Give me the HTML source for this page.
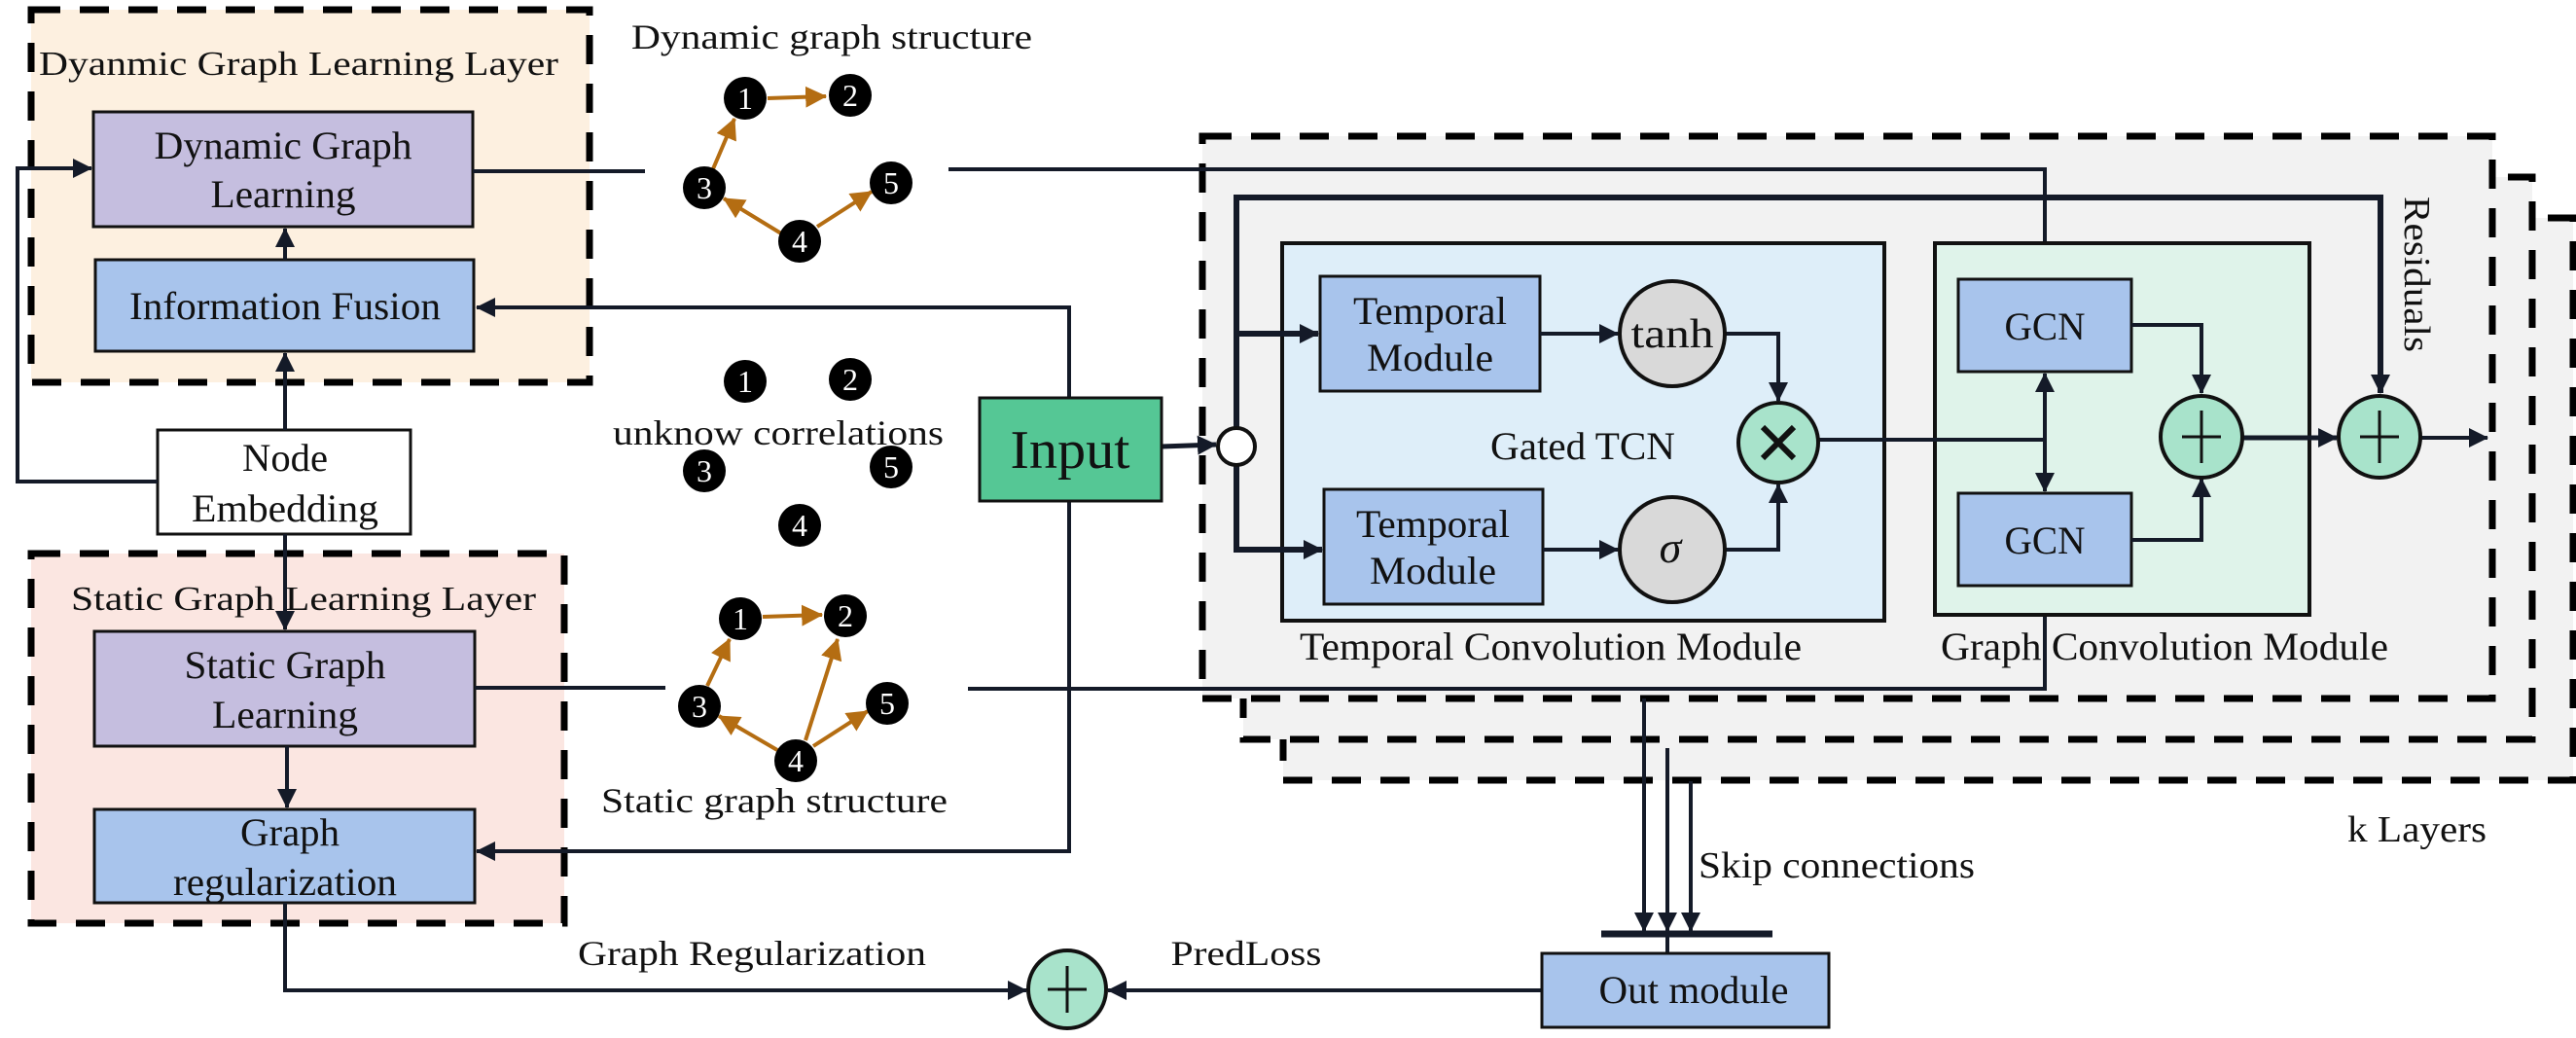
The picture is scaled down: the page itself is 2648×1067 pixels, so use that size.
<!DOCTYPE html>
<html><head><meta charset="utf-8"><style>
html,body{margin:0;padding:0;background:#fff;}
svg{display:block;}
text{font-family:"Liberation Serif","Times New Roman",serif;fill:#111;}
</style></head><body>
<svg width="2648" height="1067" viewBox="0 0 2648 1067" xmlns="http://www.w3.org/2000/svg" font-family="Liberation Serif, serif">
<defs>
<marker id="ar" viewBox="0 0 10 10" refX="9.5" refY="5" markerWidth="20" markerHeight="20" markerUnits="userSpaceOnUse" orient="auto"><path d="M0,0 L10,5 L0,10 z" fill="#141a28"/></marker>
<marker id="ao" viewBox="0 0 10 10" refX="9.5" refY="5" markerWidth="22" markerHeight="22" markerUnits="userSpaceOnUse" orient="auto"><path d="M0,0 L10,5 L0,10 z" fill="#b46d12"/></marker>
</defs>

<rect x="1319" y="224" width="1326" height="578" fill="#f2f2f2" stroke="#000" stroke-width="7" stroke-dasharray="30 20"/>
<rect x="1278" y="182" width="1325" height="578" fill="#f2f2f2" stroke="#000" stroke-width="7" stroke-dasharray="30 20"/>
<rect x="1236" y="140" width="1326" height="578" fill="#f2f2f2" stroke="#000" stroke-width="7" stroke-dasharray="30 20"/>

<rect x="32" y="10" width="574" height="383" fill="#fdf0e0" stroke="#000" stroke-width="7" stroke-dasharray="30 20"/>
<rect x="32" y="569" width="548" height="380" fill="#fbe6e1" stroke="#000" stroke-width="7" stroke-dasharray="30 20"/>
<text x="40" y="77" font-size="35" textLength="534" lengthAdjust="spacingAndGlyphs">Dyanmic Graph Learning Layer</text>
<text x="73" y="627" font-size="35" textLength="478" lengthAdjust="spacingAndGlyphs">Static Graph Learning Layer</text>

<rect x="96" y="115" width="390" height="118" fill="#c5bedf" stroke="#111" stroke-width="3"/>
<text x="291" y="163" font-size="40" text-anchor="middle" textLength="265" lengthAdjust="spacingAndGlyphs">Dynamic Graph</text>
<text x="291" y="213" font-size="40" text-anchor="middle" textLength="149" lengthAdjust="spacingAndGlyphs">Learning</text>
<rect x="98" y="267" width="389" height="94" fill="#a8c4ec" stroke="#111" stroke-width="3"/>
<text x="293" y="328" font-size="40" text-anchor="middle" textLength="320" lengthAdjust="spacingAndGlyphs">Information Fusion</text>
<rect x="162" y="442" width="260" height="107" fill="#fff" stroke="#111" stroke-width="3"/>
<text x="293" y="484" font-size="40" text-anchor="middle" textLength="88" lengthAdjust="spacingAndGlyphs">Node</text>
<text x="293" y="536" font-size="40" text-anchor="middle" textLength="192" lengthAdjust="spacingAndGlyphs">Embedding</text>
<rect x="97" y="649" width="391" height="118" fill="#c5bedf" stroke="#111" stroke-width="3"/>
<text x="293" y="697" font-size="40" text-anchor="middle" textLength="207" lengthAdjust="spacingAndGlyphs">Static Graph</text>
<text x="293" y="748" font-size="40" text-anchor="middle" textLength="150" lengthAdjust="spacingAndGlyphs">Learning</text>
<rect x="97" y="832" width="391" height="96" fill="#a8c4ec" stroke="#111" stroke-width="3"/>
<text x="298" y="869" font-size="40" text-anchor="middle" textLength="102" lengthAdjust="spacingAndGlyphs">Graph</text>
<text x="293" y="920" font-size="40" text-anchor="middle" textLength="230" lengthAdjust="spacingAndGlyphs">regularization</text>

<g stroke="#141a28" stroke-width="4" fill="none">
<polyline points="162,495 18,495 18,173 94,173" marker-end="url(#ar)"/>
<line x1="293" y1="442" x2="293" y2="363" marker-end="url(#ar)"/>
<line x1="293" y1="267" x2="293" y2="235" marker-end="url(#ar)"/>
<line x1="293" y1="549" x2="293" y2="647" marker-end="url(#ar)"/>
<line x1="295" y1="767" x2="295" y2="830" marker-end="url(#ar)"/>
<polyline points="293,928 293,1018 1055,1018" marker-end="url(#ar)"/>
<line x1="1585" y1="1018" x2="1139" y2="1018" marker-end="url(#ar)"/>
<polyline points="1099,409 1099,316 490,316" marker-end="url(#ar)"/>
<polyline points="1099,515 1099,875 490,875" marker-end="url(#ar)"/>
<line x1="486" y1="176" x2="663" y2="176"/>
<polyline points="975,174 2102,174 2102,285" marker-end="url(#ar)"/>
<line x1="488" y1="707" x2="684" y2="707"/>
<polyline points="995,708 2102,708 2102,604" marker-end="url(#ar)"/>
<line x1="1194" y1="459" x2="1250" y2="457" stroke-width="5" marker-end="url(#ar)"/>
</g>

<g stroke="#b46d12" stroke-width="4">
<line x1="732" y1="176" x2="755" y2="122" marker-end="url(#ao)"/>
<line x1="789" y1="101" x2="849" y2="99" marker-end="url(#ao)"/>
<line x1="803" y1="240" x2="744" y2="204" marker-end="url(#ao)"/>
<line x1="840" y1="233" x2="896" y2="197" marker-end="url(#ao)"/>
<line x1="727" y1="705" x2="750" y2="657" marker-end="url(#ao)"/>
<line x1="784" y1="634" x2="845" y2="632" marker-end="url(#ao)"/>
<line x1="799" y1="771" x2="739" y2="736" marker-end="url(#ao)"/>
<line x1="828" y1="761" x2="861" y2="657" marker-end="url(#ao)"/>
<line x1="836" y1="767" x2="892" y2="731" marker-end="url(#ao)"/>
</g>
<g fill="#000">
<circle cx="766" cy="101" r="22"/><circle cx="874" cy="98" r="22"/><circle cx="724" cy="193" r="22"/><circle cx="916" cy="188" r="22"/><circle cx="822" cy="248" r="22"/>
<circle cx="766" cy="392" r="22"/><circle cx="874" cy="390" r="22"/><circle cx="724" cy="484" r="22"/><circle cx="916" cy="480" r="22"/><circle cx="822" cy="540" r="22"/>
<circle cx="761" cy="636" r="22"/><circle cx="869" cy="633" r="22"/><circle cx="719" cy="726" r="22"/><circle cx="912" cy="723" r="22"/><circle cx="818" cy="782" r="22"/>
</g>
<g font-size="32" text-anchor="middle">
<text x="766" y="112" style="fill:#fff">1</text><text x="874" y="109" style="fill:#fff">2</text><text x="724" y="204" style="fill:#fff">3</text><text x="916" y="199" style="fill:#fff">5</text><text x="822" y="259" style="fill:#fff">4</text>
<text x="766" y="403" style="fill:#fff">1</text><text x="874" y="401" style="fill:#fff">2</text><text x="724" y="495" style="fill:#fff">3</text><text x="916" y="491" style="fill:#fff">5</text><text x="822" y="551" style="fill:#fff">4</text>
<text x="761" y="647" style="fill:#fff">1</text><text x="869" y="644" style="fill:#fff">2</text><text x="719" y="737" style="fill:#fff">3</text><text x="912" y="734" style="fill:#fff">5</text><text x="818" y="793" style="fill:#fff">4</text>
</g>
<text x="855" y="50" font-size="36" text-anchor="middle" textLength="412" lengthAdjust="spacingAndGlyphs">Dynamic graph structure</text>
<text x="800" y="457" font-size="36" text-anchor="middle" textLength="340" lengthAdjust="spacingAndGlyphs">unknow correlations</text>
<text x="796" y="835" font-size="36" text-anchor="middle" textLength="356" lengthAdjust="spacingAndGlyphs">Static graph structure</text>
<text x="773" y="992" font-size="36" text-anchor="middle" textLength="358" lengthAdjust="spacingAndGlyphs">Graph Regularization</text>
<text x="1281" y="992" font-size="36" text-anchor="middle" textLength="155" lengthAdjust="spacingAndGlyphs">PredLoss</text>

<rect x="1007" y="409" width="187" height="106" fill="#55c795" stroke="#111" stroke-width="3"/>
<text x="1100" y="481" font-size="56" text-anchor="middle" textLength="123" lengthAdjust="spacingAndGlyphs">Input</text>

<rect x="1318" y="250" width="619" height="388" fill="#deeef9" stroke="#111" stroke-width="4"/>
<rect x="1989" y="250" width="385" height="382" fill="#dff3ea" stroke="#111" stroke-width="4"/>
<text x="1594" y="678" font-size="40" text-anchor="middle" textLength="516" lengthAdjust="spacingAndGlyphs">Temporal Convolution Module</text>
<text x="2225" y="678" font-size="40" text-anchor="middle" textLength="460" lengthAdjust="spacingAndGlyphs">Graph Convolution Module</text>
<text x="1627" y="472" font-size="40" text-anchor="middle" textLength="190" lengthAdjust="spacingAndGlyphs">Gated TCN</text>

<rect x="1357" y="284" width="226" height="118" fill="#a8c4ec" stroke="#111" stroke-width="3"/>
<text x="1470" y="333" font-size="40" text-anchor="middle" textLength="158" lengthAdjust="spacingAndGlyphs">Temporal</text>
<text x="1470" y="381" font-size="40" text-anchor="middle" textLength="130" lengthAdjust="spacingAndGlyphs">Module</text>
<rect x="1361" y="503" width="225" height="118" fill="#a8c4ec" stroke="#111" stroke-width="3"/>
<text x="1473" y="552" font-size="40" text-anchor="middle" textLength="158" lengthAdjust="spacingAndGlyphs">Temporal</text>
<text x="1473" y="600" font-size="40" text-anchor="middle" textLength="130" lengthAdjust="spacingAndGlyphs">Module</text>
<rect x="2013" y="287" width="178" height="95" fill="#a8c4ec" stroke="#111" stroke-width="3"/>
<text x="2102" y="349" font-size="40" text-anchor="middle" textLength="83" lengthAdjust="spacingAndGlyphs">GCN</text>
<rect x="2013" y="507" width="178" height="95" fill="#a8c4ec" stroke="#111" stroke-width="3"/>
<text x="2102" y="569" font-size="40" text-anchor="middle" textLength="83" lengthAdjust="spacingAndGlyphs">GCN</text>

<g stroke="#141a28" fill="none">
<polyline points="1271,440 1271,203 2447,203 2447,404" stroke-width="6" marker-end="url(#ar)"/>
<line x1="1271" y1="343" x2="1355" y2="343" stroke-width="6" marker-end="url(#ar)"/>
<polyline points="1271,478 1271,565 1359,565" stroke-width="6" marker-end="url(#ar)"/>
<line x1="1583" y1="343" x2="1663" y2="343" stroke-width="4" marker-end="url(#ar)"/>
<line x1="1586" y1="565" x2="1663" y2="565" stroke-width="4" marker-end="url(#ar)"/>
<polyline points="1773,343 1828,343 1828,412" stroke-width="4" marker-end="url(#ar)"/>
<polyline points="1773,565 1828,565 1828,498" stroke-width="4" marker-end="url(#ar)"/>
<line x1="1869" y1="452" x2="2102" y2="452" stroke-width="4"/>
<line x1="2102" y1="452" x2="2102" y2="384" stroke-width="4" marker-end="url(#ar)"/>
<line x1="2102" y1="452" x2="2102" y2="505" stroke-width="4" marker-end="url(#ar)"/>
<polyline points="2191,334 2263,334 2263,404" stroke-width="4" marker-end="url(#ar)"/>
<polyline points="2191,555 2263,555 2263,492" stroke-width="4" marker-end="url(#ar)"/>
<line x1="2305" y1="450" x2="2402" y2="450" stroke-width="5" marker-end="url(#ar)"/>
<line x1="2488" y1="450" x2="2557" y2="450" stroke-width="4" marker-end="url(#ar)"/>
<line x1="1690" y1="718" x2="1690" y2="957" stroke-width="4" marker-end="url(#ar)"/>
<line x1="1714" y1="769" x2="1714" y2="957" stroke-width="4" marker-end="url(#ar)"/>
<line x1="1738" y1="803" x2="1738" y2="957" stroke-width="4" marker-end="url(#ar)"/>
<line x1="1646" y1="960" x2="1822" y2="960" stroke-width="7"/>
<line x1="1714" y1="960" x2="1714" y2="980" stroke-width="4"/>
</g>

<circle cx="1271" cy="459" r="19" fill="#fff" stroke="#111" stroke-width="4"/>
<circle cx="1719" cy="343" r="54" fill="#d9d9d9" stroke="#111" stroke-width="4"/>
<text x="1719" y="357" font-size="42" text-anchor="middle" textLength="85" lengthAdjust="spacingAndGlyphs">tanh</text>
<circle cx="1719" cy="565" r="54" fill="#d9d9d9" stroke="#111" stroke-width="4"/>
<text x="1717" y="578" font-size="46" font-style="italic" text-anchor="middle">σ</text>
<circle cx="1828" cy="455" r="41" fill="#a8e3cb" stroke="#111" stroke-width="4"/>
<g stroke="#111" stroke-width="6"><line x1="1812" y1="439" x2="1844" y2="471"/><line x1="1844" y1="439" x2="1812" y2="471"/></g>
<circle cx="2263" cy="449" r="42" fill="#a8e3cb" stroke="#111" stroke-width="4"/>
<g stroke="#111" stroke-width="3"><line x1="2263" y1="422" x2="2263" y2="476"/><line x1="2243" y1="449" x2="2283" y2="449"/></g>
<circle cx="2446" cy="449" r="42" fill="#a8e3cb" stroke="#111" stroke-width="4"/>
<g stroke="#111" stroke-width="3"><line x1="2446" y1="422" x2="2446" y2="476"/><line x1="2426" y1="449" x2="2466" y2="449"/></g>
<circle cx="1097" cy="1017" r="40" fill="#a8e3cb" stroke="#111" stroke-width="4"/>
<g stroke="#111" stroke-width="3"><line x1="1097" y1="993" x2="1097" y2="1041"/><line x1="1077" y1="1017" x2="1117" y2="1017"/></g>

<rect x="1585" y="980" width="295" height="76" fill="#a8c4ec" stroke="#111" stroke-width="3"/>
<text x="1741" y="1031" font-size="40" text-anchor="middle" textLength="195" lengthAdjust="spacingAndGlyphs">Out module</text>

<text x="1746" y="902" font-size="38" textLength="284" lengthAdjust="spacingAndGlyphs">Skip connections</text>
<text x="2413" y="865" font-size="38" textLength="143" lengthAdjust="spacingAndGlyphs">k Layers</text>
<text x="0" y="0" font-size="38" text-anchor="middle" textLength="160" lengthAdjust="spacingAndGlyphs" transform="translate(2472,282) rotate(90)">Residuals</text>
</svg>
</body></html>
